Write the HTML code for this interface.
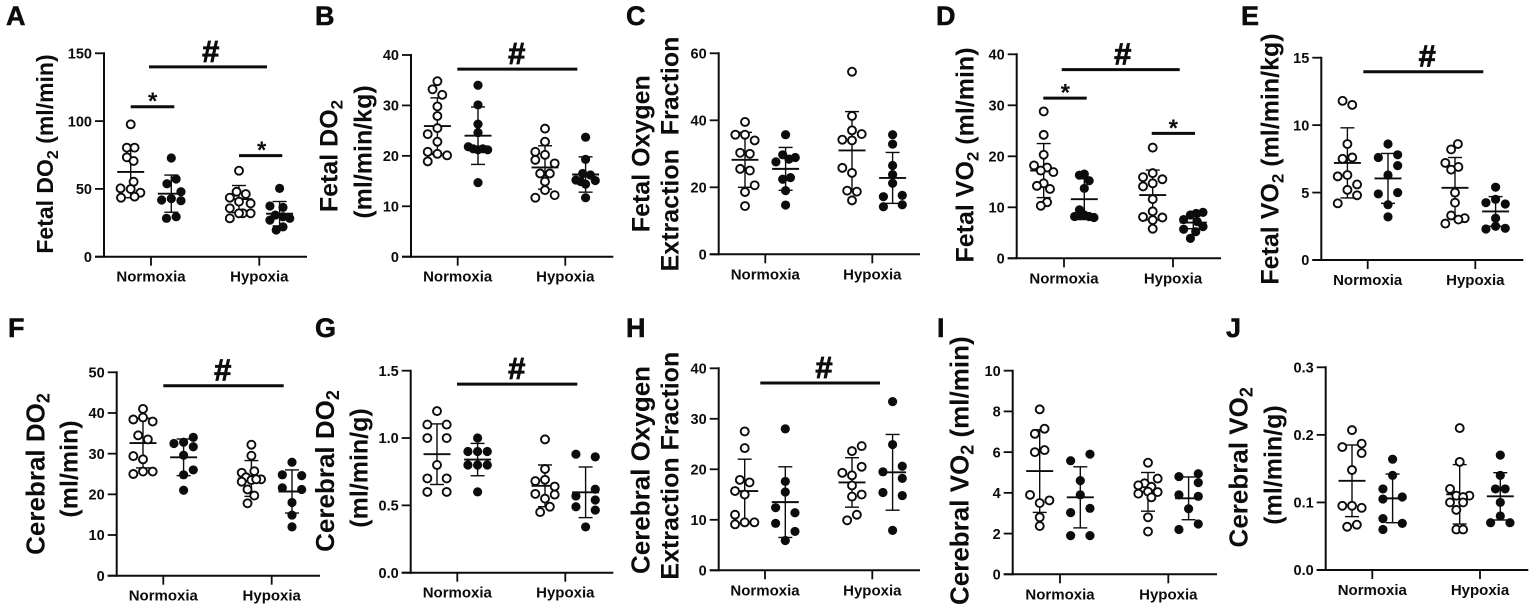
<!DOCTYPE html>
<html lang="en">
<head>
<meta charset="utf-8">
<title>Fetal and cerebral oxygen delivery and consumption</title>
<style>
html,body{margin:0;padding:0;background:#fff;width:1535px;height:609px;overflow:hidden}
svg{display:block;filter:blur(.3px)}
text{font-family:"Liberation Sans",Arial,sans-serif;font-weight:bold;fill:#0c0c0c}
.letter{font-size:27px;stroke:#0c0c0c;stroke-width:.5px}
.ttl{font-size:25px;text-anchor:middle}
.tick{font-size:14.5px;text-anchor:end}
.cat{font-size:15px;text-anchor:middle}
</style>
</head>
<body>
<svg id="chart" width="1535" height="609" viewBox="0 0 1535 609" xmlns="http://www.w3.org/2000/svg">
<g id="panel-a">
<text class="letter" x="6" y="25">A</text>
<text class="ttl" style="font-size:23px" transform="translate(53,154) rotate(-90)">Fetal DO<tspan dy="5" font-size="16">2</tspan><tspan dy="-5"> (ml/min)</tspan></text>
</g>
<g id="panel-b">
<text class="letter" x="315" y="25">B</text>
<text class="ttl" transform="translate(337.3,156) rotate(-90)">Fetal DO<tspan dy="5" font-size="17">2</tspan></text>
<text class="ttl" transform="translate(371.7,152) rotate(-90)">(ml/min/kg)</text>
</g>
<g id="panel-c">
<text class="letter" x="626" y="25">C</text>
<text class="ttl" transform="translate(649.3,153.7) rotate(-90)">Fetal Oxygen</text>
<text class="ttl" xml:space="preserve" transform="translate(678.3,154) rotate(-90)">Extraction  Fraction</text>
</g>
<g id="panel-d">
<text class="letter" x="936" y="25">D</text>
<text class="ttl" transform="translate(973.3,155) rotate(-90)">Fetal VO<tspan dy="5" font-size="17">2</tspan><tspan dy="-5"> (ml/min)</tspan></text>
</g>
<g id="panel-e">
<text class="letter" x="1241" y="25">E</text>
<text class="ttl" transform="translate(1278.3,159) rotate(-90)">Fetal VO<tspan dy="5" font-size="17">2</tspan><tspan dy="-5"> (ml/min/kg)</tspan></text>
</g>
<g id="panel-f">
<text class="letter" x="8" y="337">F</text>
<text class="ttl" style="font-size:26px" transform="translate(44.3,474) rotate(-90)">Cerebral DO<tspan dy="5" font-size="18">2</tspan></text>
<text class="ttl" transform="translate(77.3,469) rotate(-90)">(ml/min)</text>
</g>
<g id="panel-g">
<text class="letter" x="315" y="337">G</text>
<text class="ttl" style="font-size:26px" transform="translate(334,471) rotate(-90)">Cerebral DO<tspan dy="5" font-size="18">2</tspan></text>
<text class="ttl" transform="translate(367.3,468) rotate(-90)">(ml/min/g)</text>
</g>
<g id="panel-h">
<text class="letter" x="626" y="337">H</text>
<text class="ttl" style="font-size:26px" transform="translate(649.3,470) rotate(-90)">Cerebral Oxygen</text>
<text class="ttl" transform="translate(678.3,465.7) rotate(-90)">Extraction Fraction</text>
</g>
<g id="panel-i">
<text class="letter" x="937" y="337">I</text>
<text class="ttl" style="font-size:26px" transform="translate(968.3,470.7) rotate(-90)">Cerebral VO<tspan dy="5" font-size="18">2</tspan><tspan dy="-5"> (ml/min)</tspan></text>
</g>
<g id="panel-j">
<text class="letter" x="1226" y="337">J</text>
<text class="ttl" style="font-size:26px" transform="translate(1247.3,467.3) rotate(-90)">Cerebral VO<tspan dy="5" font-size="18">2</tspan></text>
<text class="ttl" transform="translate(1281.7,465) rotate(-90)">(ml/min/g)</text>
</g>
</svg>
<script>
// Each panel lists four groups in order: normoxia control, normoxia treated, hypoxia control, hypoxia treated.
const categories = ["Normoxia", "Hypoxia"];

const panelATicks = ["0", "50", "100", "150"];
const panelAValues = [
  [97.6,80.4,80.4,73.3,70.6,55.3,50.4,49.9,47.2,43.5,44.3],
  [72.8,57.3,53.8,47.9,41.8,42.8,41.3,28.3,29.5],
  [63.4,47.9,46.2,43.5,40.6,39.3,35.7,32,32,28.3,32],
  [50.4,37.4,36.4,30.7,29.5,28.3,27,22,19.7]
];
const panelAJitter = [
  [0,-.4,.4,-.4,.3,.3,-1.05,0,1,-1,.4],
  [0,.5,-.45,1,-1,0,1,-.5,.5],
  [0,-.25,.7,-.95,0,1.2,-.95,.4,1.2,-.95,0],
  [0,-1,.35,-.45,.35,1.05,-1,.35,-.35]
];
const panelAMeans = [62.5,46.5,42.5,31.7];
const panelASds = [19,13.7,10,9];
const panelASigLevels = [140,110.6,74.5];
const panelASigMarks = ["#","*","*"];

const panelBTicks = ["0", "10", "20", "30", "40"];
const panelBValues = [
  [34.8,33.2,32.1,29.8,27.9,25.5,24.3,22.8,20.8,20.4,20.1,18.9],
  [34,30.1,26.3,24.6,21.8,21.4,21.2,21.4,21.2,14.7],
  [25.4,22.8,20.8,19.2,20.2,18.5,16.5,16.5,14.9,13.2,12.2,11.7],
  [23.7,19.3,16.5,16.2,15.2,14.9,14.4,15.1,11.7]
];
const panelBJitter = [
  [0,-.5,.5,0,0,0,-1,0,-1,0,1,-1],
  [0,0,0,0,-1,-.5,0,.5,1,0],
  [0,0,-1,-1,0,1,-.5,.5,0,0,1,-1],
  [0,0,-.3,.5,-1,-.5,0,1,0]
];
const panelBMeans = [25.9,24,17.7,16.3];
const panelBSds = [5.6,5.7,4.3,3.5];
const panelBSigLevels = [37.2];
const panelBSigMarks = ["#"];

const panelCTicks = ["0", "20", "40", "60"];
const panelCValues = [
  [39.5,35.7,35.7,34,30.3,30,25.5,25,20.6,18.6,14.4],
  [35.7,29.7,28.9,27.6,28.4,22.9,22.4,19,14.7],
  [54.5,41.3,37,35.9,34.2,34,25.8,24.3,19,18.7,16.1],
  [35.7,32.9,26.5,23.8,21.2,17.2,17.6,14.2,14.8]
];
const panelCJitter = [
  [0,-1,0,1,-.5,.5,-.5,.5,1,0,0],
  [0,-.3,1,-1,.35,.5,-.3,0,0],
  [0,0,0,1,-1,0,-1,0,-.5,.5,0],
  [0,0,0,0,0,-.95,1,-.95,1]
];
const panelCMeans = [28.2,25.5,31,22.8];
const panelCSds = [8.2,6.4,11.6,7.6];
const panelCSigLevels = [];
const panelCSigMarks = [];

const panelDTicks = ["0", "10", "20", "30", "40"];
const panelDValues = [
  [28.8,24.2,20.3,18.2,17.8,17.2,16.9,14.7,14.2,13.6,11,10.3],
  [16.3,16.5,15.2,13.7,9.5,8.2,8.5,8.5,8.2,8],
  [21.7,16.7,15.9,15.5,14.7,14.1,11.6,9.2,8.1,8,7.5,5.8],
  [9,8.8,8.5,7.6,7.2,6.2,5.7,5.2,3.9]
];
const panelDJitter = [
  [0,0,0,-1,.35,-.3,1,0,-.7,.65,.35,-.3],
  [-.5,0,.5,0,-.5,-1,-.5,0,.5,1],
  [0,0,-1,1,0,-1,0,0,-1,1,0,0],
  [1,.3,-.3,-1,.4,1,-1,.25,-.3]
];
const panelDMeans = [17.2,11.6,12.4,7];
const panelDSds = [5.3,4,4.9,1.2];
const panelDSigLevels = [37,31.4,24.5];
const panelDSigMarks = ["#","*","*"];

const panelETicks = ["0", "5", "10", "15"];
const panelEValues = [
  [11.8,11.5,8.6,7.5,7.6,6.2,6.3,5.6,5.2,4.8,4.2],
  [8.6,7.6,7.8,7,6.3,4.9,5,4.1,3.2],
  [8.6,8.2,7.2,6.9,6.7,5,4.25,3.3,3.1,3,2.7],
  [5.4,4.5,4.25,4.15,3.1,2.3,2.5,2.35]
];
const panelEJitter = [
  [-.5,.5,0,-.5,.5,-1,0,1,0,1,-1],
  [0,-1,1,1,0,-1,1,0,0],
  [.3,-.4,-1,.35,-.4,0,0,-.4,1,.35,-1],
  [0,0,-1,1,0,-1,0,1]
];
const panelEMeans = [7.2,6.05,5.35,3.6];
const panelESds = [2.6,1.85,2.25,1.1];
const panelESigLevels = [13.96];
const panelESigMarks = ["#"];

const panelFTicks = ["0", "10", "20", "30", "40", "50"];
const panelFValues = [
  [41,38.9,38.4,37.9,34.5,33.5,29.4,28.6,25.6,25.6,25],
  [32.5,32.8,34,31.7,29.6,26,24.8,21],
  [32.2,29.5,25.3,25.7,24.2,23.7,23.1,23.5,23.7,21.2,19.7,17.8],
  [27.9,24.8,24.6,21.6,21.2,18,14.9,12]
];
const panelFJitter = [
  [0,0,-1,1,-.5,.5,-1,0,0,1,-1],
  [-1,0,1,1,0,1,0,0],
  [0,0,-1,.3,-.55,1,-1,0,.5,-.4,.3,-.4],
  [0,-1,1,-1,1,0,0,0]
];
const panelFMeans = [32.6,29.1,23.9,20.7];
const panelFSds = [6.1,4.5,4.4,5.3];
const panelFSigLevels = [46.7];
const panelFSigMarks = ["#"];

const panelGTicks = ["0.0", "0.5", "1.0", "1.5"];
const panelGValues = [
  [1.2,1.1,1.1,1,1,.8,.7,.7,.6,.6],
  [1,.9,.9,.9,.8,.8,.8,.6],
  [.99,.77,.68,.69,.64,.585,.58,.55,.49,.45],
  [.88,.86,.62,.57,.54,.49,.465,.34]
];
const panelGJitter = [
  [0,-1,1,-1,1,0,-1,1,-1,1],
  [0,-1,0,1,-1,0,1,0],
  [0,0,-1,0,1,-1,1,0,.5,-.5],
  [-1,1,1,-1,1,-1,1,0]
];
const panelGMeans = [.88,.84,.645,.597];
const panelGSds = [.225,.12,.155,.188];
const panelGSigLevels = [1.4];
const panelGSigMarks = ["#"];

const panelHTicks = ["0", "10", "20", "30", "40"];
const panelHValues = [
  [27.5,24.2,17.9,17.4,15.7,15,11,9.1,9.5,9.5],
  [28,17.6,15.5,12.4,11.4,9.3,7.7,5.9],
  [24.6,23.6,20.5,19.3,18.8,16.8,15,14.6,11,9.9],
  [33.4,24.9,20.6,19.5,18.2,15.4,14.8,7.9]
];
const panelHJitter = [
  [0,0,-.5,.5,-1,0,-1,-1,0,1],
  [0,0,0,-1,1,-1,1,0],
  [1,0,1,-1,0,0,1,0,.5,-.5],
  [0,0,1,-1,1,-1,1,0]
];
const panelHMeans = [15.7,13.5,17.4,19.4];
const panelHSds = [6.3,7,4.9,7.5];
const panelHSigLevels = [37.1];
const panelHSigMarks = ["#"];

const panelITicks = ["0", "2", "4", "6", "8", "10"];
const panelIValues = [
  [8.1,7.15,6.9,6.1,6,3.9,3.63,3.5,2.8,2.37],
  [5.58,5.9,4.6,3.9,3.24,3.03,1.9,1.9],
  [5.48,4.7,4.47,4.37,4.3,3.96,4.06,4.04,3.78,2.8,2.1],
  [4.8,4.94,4.5,3.9,3.83,3.22,2.47,2.2]
];
const panelIJitter = [
  [0,.5,-.5,.5,-.5,-1,1,0,0,0],
  [-1,1,0,0,1,-1,-1,1],
  [0,1,-.35,-1,.35,-1,0,1,.35,0,0],
  [-1,1,1,-1,1,0,1,-1]
];
const panelIMeans = [5.07,3.78,4.05,3.73];
const panelISds = [2.03,1.5,.95,1.05];
const panelISigLevels = [];
const panelISigMarks = [];

const panelJTicks = ["0.0", "0.1", "0.2", "0.3"];
const panelJValues = [
  [.207,.187,.182,.173,.148,.095,.095,.092,.067,.064],
  [.164,.14,.12,.105,.108,.076,.069,.06],
  [.21,.16,.12,.11,.11,.108,.1,.1,.089,.06,.06],
  [.17,.14,.12,.12,.1,.08,.07,.07]
];
const panelJJitter = [
  [0,1,-1,1,0,-1,0,1,.5,-.5],
  [0,0,-1,-1,1,-1,1,-1],
  [0,0,-1,-.35,1,.35,-1,.35,-.35,-.35,.35],
  [0,0,-.5,.5,0,0,-1,1]
];
const panelJMeans = [.132,.106,.112,.109];
const panelJSds = [.053,.036,.044,.035];
const panelJSigLevels = [];
const panelJSigMarks = [];

const NS = "http://www.w3.org/2000/svg";
const INK = "#0c0c0c";
const SLOT_PX = 9.67;      // width of one jitter slot
const GROUP_PX = 20.3;     // group offset from its category tick

const panels = [
  {root:"panel-a",ticks:panelATicks,values:panelAValues,jitter:panelAJitter,means:panelAMeans,sds:panelASds,sigLevels:panelASigLevels,sigMarks:panelASigMarks,
   x0:104,y0:256.7,yTop:53.3,xEnd:307,cat:[151,259.3],sigX:[[149,267,210.7],[130.7,174.3,152.7],[239,282.3,261.7]]},
  {root:"panel-b",ticks:panelBTicks,values:panelBValues,jitter:panelBJitter,means:panelBMeans,sds:panelBSds,sigLevels:panelBSigLevels,sigMarks:panelBSigMarks,
   x0:411,y0:256.7,yTop:55,xEnd:613.3,cat:[457.7,565.3],sigX:[[457.3,577.3,516.7]]},
  {root:"panel-c",ticks:panelCTicks,values:panelCValues,jitter:panelCJitter,means:panelCMeans,sds:panelCSds,sigLevels:panelCSigLevels,sigMarks:panelCSigMarks,
   x0:718.7,y0:254.3,yTop:53.3,xEnd:920,cat:[765.3,872.3],sigX:[]},
  {root:"panel-d",ticks:panelDTicks,values:panelDValues,jitter:panelDJitter,means:panelDMeans,sds:panelDSds,sigLevels:panelDSigLevels,sigMarks:panelDSigMarks,
   x0:1016.7,y0:258.3,yTop:54.3,xEnd:1221,cat:[1064,1173],sigX:[[1061.7,1179.7,1122.7],[1043.3,1086.7,1065.3],[1151.7,1195,1173.3]]},
  {root:"panel-e",ticks:panelETicks,values:panelEValues,jitter:panelEJitter,means:panelEMeans,sds:panelESds,sigLevels:panelESigLevels,sigMarks:panelESigMarks,
   x0:1321.3,y0:260,yTop:57.7,xEnd:1523.3,cat:[1367.7,1475.3],sigX:[[1363.3,1483.3,1427.3]]},
  {root:"panel-f",ticks:panelFTicks,values:panelFValues,jitter:panelFJitter,means:panelFMeans,sds:panelFSds,sigLevels:panelFSigLevels,sigMarks:panelFSigMarks,
   x0:116.7,y0:575.7,yTop:372.3,xEnd:320,cat:[163.3,271.7],sigX:[[163.3,283.7,222.7]]},
  {root:"panel-g",ticks:panelGTicks,values:panelGValues,jitter:panelGJitter,means:panelGMeans,sds:panelGSds,sigLevels:panelGSigLevels,sigMarks:panelGSigMarks,
   x0:410.7,y0:572.7,yTop:370.7,xEnd:613.3,cat:[457.3,565.3],sigX:[[457,577.3,516.7]]},
  {root:"panel-h",ticks:panelHTicks,values:panelHValues,jitter:panelHJitter,means:panelHMeans,sds:panelHSds,sigLevels:panelHSigLevels,sigMarks:panelHSigMarks,
   x0:718.7,y0:570.3,yTop:368.3,xEnd:920,cat:[765,872.3],sigX:[[760.3,880,824]]},
  {root:"panel-i",ticks:panelITicks,values:panelIValues,jitter:panelIJitter,means:panelIMeans,sds:panelISds,sigLevels:panelISigLevels,sigMarks:panelISigMarks,
   x0:1012.7,y0:574.3,yTop:370.7,xEnd:1217,cat:[1060,1168.3],sigX:[]},
  {root:"panel-j",ticks:panelJTicks,values:panelJValues,jitter:panelJJitter,means:panelJMeans,sds:panelJSds,sigLevels:panelJSigLevels,sigMarks:panelJSigMarks,
   x0:1325.7,y0:570,yTop:367.3,xEnd:1528.3,cat:[1372.3,1480],sigX:[]}
];

function makeLine(parent, x1, y1, x2, y2, width) {
  const l = document.createElementNS(NS, "line");
  l.setAttribute("x1", x1);
  l.setAttribute("y1", y1);
  l.setAttribute("x2", x2);
  l.setAttribute("y2", y2);
  l.setAttribute("stroke", INK);
  l.setAttribute("stroke-width", width);
  parent.appendChild(l);
  return l;
}

function makeText(parent, x, y, cls, str) {
  const t = document.createElementNS(NS, "text");
  t.setAttribute("x", x);
  t.setAttribute("y", y);
  t.setAttribute("class", cls);
  t.textContent = str;
  parent.appendChild(t);
  return t;
}

function drawPanel(p) {
  const g = document.getElementById(p.root);
  const yMax = Number(p.ticks[p.ticks.length - 1]);
  const yScale = v => p.y0 - (v / yMax) * (p.y0 - p.yTop);
  const groupX = i => p.cat[i < 2 ? 0 : 1] + (i % 2 === 0 ? -GROUP_PX : GROUP_PX);

  const yAxis = makeLine(g, p.x0, p.yTop - 1, p.x0, p.y0 + 1, 2);
  
  
  const xAxis = makeLine(g, p.x0 - 9, p.y0, p.xEnd, p.y0, 2);
  
  

  p.ticks.forEach(label => {
    const y = yScale(Number(label));
    const tick = makeLine(g, p.x0 - 9, y, p.x0, y, 1.8);
    
    
    const tickLabel = makeText(g, p.x0 - 12, y + 5.2, "tick", label);
    
    
  });

  categories.forEach((name, i) => {
    const tick = makeLine(g, p.cat[i], p.y0, p.cat[i], p.y0 + 9, 1.8);
    
    
    const catLabel = makeText(g, p.cat[i], p.y0 + 25, "cat", name);
    
    
  });

  p.values.forEach((series, i) => {
    const cx = groupX(i);
    const m = p.means[i], s = p.sds[i];
    const whisker = makeLine(g, cx, yScale(m + s), cx, yScale(m - s), 1.4);
    
    
    const capTop = makeLine(g, cx - 7, yScale(m + s), cx + 7, yScale(m + s), 1.4);
    
    
    const capBottom = makeLine(g, cx - 7, yScale(m - s), cx + 7, yScale(m - s), 1.4);
    
    
    const meanLine = makeLine(g, cx - 13.5, yScale(m), cx + 13.5, yScale(m), 1.9);
    
    

    series.forEach((v, k) => {
      const c = document.createElementNS(NS, "circle");
      c.setAttribute("cx", cx + p.jitter[i][k] * SLOT_PX);
      c.setAttribute("cy", yScale(v));
      if (i % 2 === 0) {
        c.setAttribute("r", 4);
        c.setAttribute("fill", "#fff");
        c.setAttribute("stroke", INK);
        c.setAttribute("stroke-width", 1.9);
      } else {
        c.setAttribute("r", 4.6);
        c.setAttribute("fill", INK);
      }
      
      
      g.appendChild(c);
    });
  });

  p.sigLevels.forEach((level, i) => {
    const y = yScale(level);
    const bar = makeLine(g, p.sigX[i][0], y, p.sigX[i][1], y, 3);
    
    
    const mark = p.sigMarks[i];
    const markY = mark === "#" ? y - 5 : y + 2.5;
    const sig = makeText(g, p.sigX[i][2], markY, "cat", mark);
    sig.setAttribute("style", mark === "#" ? "font-size:31px;stroke:#0c0c0c;stroke-width:.8px" : "font-size:24px");
    
    
  });
}

panels.forEach(drawPanel);
</script>
</body>
</html>
